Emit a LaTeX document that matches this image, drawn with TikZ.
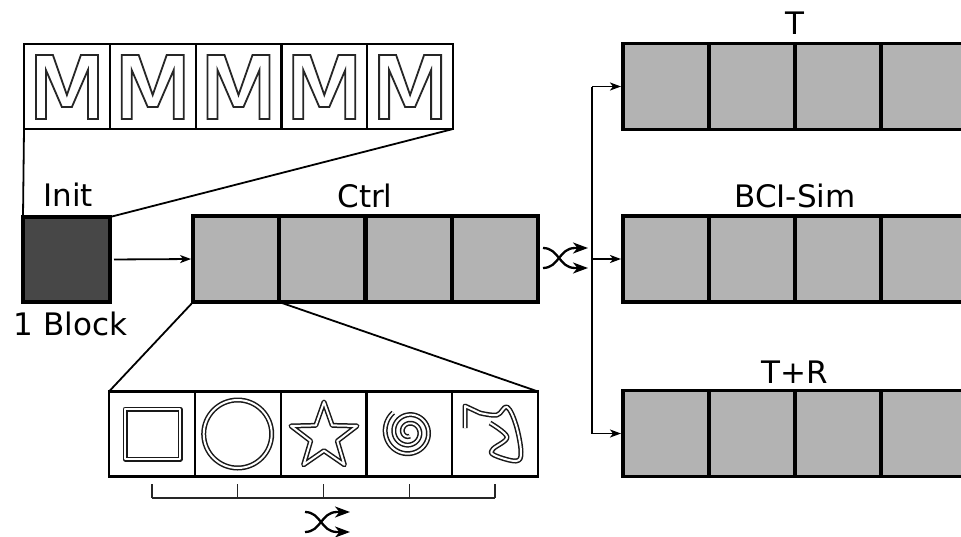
\documentclass[tikz,border=0pt]{standalone}
\usepackage{fontspec}
\setmainfont{DejaVu Sans}
\usetikzlibrary{arrows.meta}
\definecolor{cellgray}{HTML}{B3B3B3}
\definecolor{initgray}{HTML}{474747}
\begin{document}
\begin{tikzpicture}[x=1pt,y=-1pt,
  graycell/.style={draw=black, line width=3.8pt, fill=cellgray, minimum width=86pt, minimum height=86pt, inner sep=0pt, outer sep=0pt},
  wcell/.style={draw=black, line width=2.2pt, fill=white, minimum width=85.8pt, minimum height=85pt, inner sep=0pt, outer sep=0pt},
  lbl/.style={font=\fontsize{31}{36}\selectfont, anchor=base, inner sep=0pt},
  conn/.style={line width=1.8pt},
  arr/.style={conn, -{Stealth[length=11pt,width=8pt,inset=3pt]}},
  shufarr/.style={line width=2.3pt, -{Stealth[length=15pt,width=11pt,inset=4.5pt]}},
  dbl/.style={draw=black!90, line width=1.5pt, double=white, double distance=2pt, line join=round},
  mglyph/.style={draw=black!85, line width=1.8pt, fill=white, line join=miter},
  bracket/.style={draw=black!85, line width=1.5pt},
  shufflesym/.pic={
    \draw[shufarr] (0,0) .. controls (16,0) and (16,20) .. (32,20) -- (45,20);
    \draw[shufarr] (0,20) .. controls (16,20) and (16,0) .. (32,0) -- (45,0);
  }
]
\useasboundingbox (0,0) rectangle (961,536);
\clip (0,0) rectangle (961,536);

% M row
\foreach \i in {1,...,5} {
  \node[wcell] (m\i) at ({24+42.9+85.8*(\i-1)},86.5) {};
  \draw[mglyph, shift={(m\i.center)}] (-31,32.5) -- (-31,-31.5) -- (-14,-31.5) -- (0,8.5) -- (14,-31.5) -- (31,-31.5) -- (31,32.5) -- (21,32.5) -- (21,-16.5) -- (5,20.5) -- (-5,20.5) -- (-21,-16.5) -- (-21,32.5) -- cycle;
}

% Init
\node[graycell, fill=initgray, minimum width=87pt, minimum height=85pt] (init) at (66.5,259.5) {};

% Ctrl row
\foreach \i in {1,...,4}
  \node[graycell] (c\i) at ({193+43.1+86.25*(\i-1)},259) {};

% shapes row
\foreach \i in {1,...,5}
  \node[wcell] (s\i) at ({109+42.9+85.8*(\i-1)},434) {};

% right rows
\foreach \r/\y in {t/86.5, b/259, r/433.5}
  \foreach \i in {1,...,4}
    \node[graycell] (\r\i) at ({623+43+86*(\i-1)},\y) {};

% labels
\node[lbl] (lT) at (795,34) {T};
\node[lbl] (lBCI) at (795,207) {BCI-Sim};
\node[lbl] (lTR) at (795,383) {T+R};
\node[lbl] (lCtrl) at (365,207) {Ctrl};
\node[lbl] (lInit) at (68,206) {Init};
\node[lbl] (lBlock) at (70.5,335) {1 Block};

% zoom connectors
\draw[conn] (init.north west) -- (m1.south west);
\draw[conn] (init.north east) -- (m5.south east);
\draw[conn] (c1.south west) -- (s1.north west);
\draw[conn] (c1.south east) -- (s5.north east);
\draw[arr, shorten <=4pt, shorten >=2pt] (init.east) -- (c1.west);

% branch
\coordinate (bt) at (592,86.5);
\coordinate (bm) at (592,259);
\coordinate (bb) at (592,433.5);
\draw[conn] (bt) -- (bb);
\draw[arr, shorten >=2pt] (bt) -- (t1.west);
\draw[arr, shorten >=2pt] (bm) -- (b1.west);
\draw[arr, shorten >=2pt] (bb) -- (r1.west);

% shuffle symbols
\pic at (543,248) {shufflesym};
\pic at (305,512) {shufflesym};

% shapes
\draw[dbl] (125,409) rectangle (180,459);
\draw[dbl] (s2.center) circle (34);
\draw[dbl, shift={(324,436.7)}] (0,-34.7) -- (8.23,-11.33) -- (33.0,-10.72) -- (13.31,4.33) -- (20.4,28.07) -- (0,14) -- (-20.4,28.07) -- (-13.31,4.33) -- (-33.0,-10.72) -- (-8.23,-11.33) -- cycle;
\draw[dbl, line cap=butt, shift={(409,432)}] plot[domain=129:1000, samples=200, smooth] ({(25-0.024*(\x-129))*cos(\x)}, {-(25-0.024*(\x-129))*sin(\x)});
\draw[dbl] (465,428) -- (465,406) -- plot[smooth, tension=0.6] coordinates {(480,413) (497,415) (507,407) (516,425) (521,452) (516,461) (494,455) (493,449) (507,437) (490,423)};

% bracket
\foreach \i in {1,...,5}
  \coordinate (k\i) at ({109+42.9+85.8*(\i-1)},498);
\draw[bracket] (k1) -- (k5);
\foreach \i in {1,...,5}
  \draw[bracket] (k\i) -- ++(0,-14);
\end{tikzpicture}
\end{document}
